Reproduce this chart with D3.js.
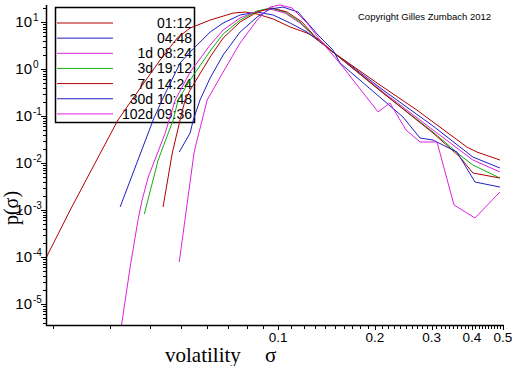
<!DOCTYPE html>
<html><head><meta charset="utf-8">
<script src="https://cdn.jsdelivr.net/npm/d3@7"></script>
<style>body{margin:0;background:#fff}svg{display:block}</style>
</head><body>
<svg id="chart" width="512" height="366"></svg>
<script>
// ---- data ----
const seriesLabels = ["01:12","04:48","1d 08:24","3d 19:12","7d 14:24","30d 10:48","102d 09:36"];
const seriesColors = ["#b00000","#2020c0","#e020e0","#10b010","#b00000","#2020c0","#e020e0"];

const sigma0112 = [0.0190,0.0226,0.0270,0.0318,0.0373,0.0430,0.0486,0.0533,0.0615,0.0725,0.0790,0.0861,0.0965,0.109,0.123,0.135,0.148,0.203,0.270,0.386,0.415,0.489];
const p0112     = [9.5e-5,1.0e-3,1.0e-2,0.0822,0.394,1.55,4.57,7.45,11.0,15.5,16.3,14.8,11.6,7.83,5.84,4.14,2.30,0.504,0.134,0.0219,0.0171,0.0116];

const sigma0448 = [0.0323,0.0409,0.0436,0.0496,0.0533,0.0615,0.0675,0.0762,0.0861,0.0965,0.109,0.123,0.135,0.148,0.212,0.303,0.403,0.489];
const p0448     = [0.00116,0.0822,0.219,1.34,2.30,6.13,9.52,14.1,16.3,14.1,9.52,6.13,3.75,2.30,0.357,0.0612,0.0134,0.00783];

const sigma1d   = [0.0321,0.0347,0.0367,0.0378,0.0395,0.0446,0.0479,0.0533,0.0615,0.0675,0.0762,0.0861,0.0944,0.1051,0.117,0.1331,0.148,0.212,0.303,0.403,0.489];
const p1d       = [1.71e-6,6.12e-5,6.12e-4,0.00163,0.00503,0.0435,0.219,0.863,3.24,6.76,12.2,17.1,18.9,15.5,9.52,4.14,2.30,0.324,0.0504,0.0116,0.00644];

const sigma3d   = [0.0384,0.0424,0.0472,0.0489,0.0533,0.0615,0.0675,0.0762,0.0861,0.0944,0.1051,0.117,0.1331,0.148,0.212,0.303,0.3674,0.403,0.489];
const p3d       = [8.22e-4,0.0116,0.0822,0.219,0.583,2.42,5.56,11.0,17.1,19.9,16.3,10.0,4.14,2.30,0.308,0.0457,0.0148,0.00906,0.00479];

const sigma7d   = [0.0439,0.0469,0.0496,0.0514,0.0533,0.0615,0.0675,0.0762,0.0861,0.0958,0.1067,0.1187,0.1331,0.148,0.212,0.303,0.3674,0.403,0.489];
const p7d       = [0.00116,0.0163,0.0822,0.219,0.357,1.80,4.57,10.0,16.3,19.9,16.3,10.0,4.14,2.30,0.308,0.0435,0.0134,0.00613,0.00479];

const sigma30d  = [0.0493,0.0533,0.0545,0.0572,0.0615,0.0675,0.0762,0.0861,0.0944,0.1036,0.1154,0.1331,0.148,0.1558,0.2444,0.2761,0.303,0.3597,0.4091,0.489];
const p30d      = [0.0171,0.0435,0.0822,0.219,0.644,1.99,6.13,12.8,18.9,20.8,16.3,5.29,2.54,1.34,0.0953,0.0340,0.0308,0.0171,0.00394,0.00308];

const sigma102d = [0.0493,0.0522,0.0548,0.0560,0.0581,0.0602,0.0675,0.0762,0.0861,0.0944,0.1014,0.1105,0.123,0.135,0.148,0.1591,0.2045,0.2227,0.2497,0.2761,0.3118,0.3521,0.4091,0.489];
const p102d     = [7.83e-5,0.00141,0.0163,0.0308,0.0822,0.219,0.863,3.58,11.0,20.8,23.0,19.9,9.52,4.14,1.99,1.10,0.122,0.189,0.0504,0.0280,0.0280,0.00128,0.000676,0.00241];

const xMajorTicks = [0.1,0.2,0.3,0.4,0.5];
const xTickLabels = ["0.1","0.2","0.3","0.4","0.5"];
const yExponents = [1,0,-1,-2,-3,-4,-5];

const allSigma = [sigma0112,sigma0448,sigma1d,sigma3d,sigma7d,sigma30d,sigma102d];
const allP = [p0112,p0448,p1d,p3d,p7d,p30d,p102d];

// ---- layout ----
const svg = d3.select("#chart");
const x = d3.scaleLog().domain([0.0190, 0.5]).range([46, 503]);
const y = d3.scaleLog().domain([Math.pow(10,-5.447), Math.pow(10,1.362)]).range([325, 5]);

svg.append("defs").append("clipPath").attr("id","plotclip")
  .append("rect").attr("x",46).attr("y",2).attr("width",462).attr("height",323);

// legend box
const legend = svg.append("g");
legend.append("rect").attr("x",55.5).attr("y",7.5).attr("width",139).attr("height",115)
  .attr("fill","none").attr("stroke","#000").attr("stroke-width",1.5);
seriesLabels.forEach((lab,i)=>{
  const yy = 23 + i*15.15;
  legend.append("line").attr("x1",57).attr("x2",113).attr("y1",yy).attr("y2",yy)
    .attr("stroke",seriesColors[i]).attr("stroke-width",1);
  legend.append("text").attr("x",192).attr("y",yy+5).attr("text-anchor","end")
    .attr("font-family","Liberation Sans, Arial, sans-serif").attr("font-size",14)
    .attr("fill","#000").text(lab);
});

// curves
const line = d3.line().x(d=>x(d[0])).y(d=>y(d[1]));
const gCurves = svg.append("g").attr("clip-path","url(#plotclip)");
allSigma.forEach((sArr,i)=>{
  const pts = sArr.map((s,j)=>[s, allP[i][j]]);
  gCurves.append("path").attr("d", line(pts)).attr("fill","none")
    .attr("stroke", seriesColors[i]).attr("stroke-width",1);
});

// x axis
const xAxis = svg.append("g");
xAxis.append("line").attr("x1",46).attr("x2",504).attr("y1",325.5).attr("y2",325.5)
  .attr("stroke","#000").attr("stroke-width",1.5);
const xMinor = d3.range(2,10).map(k=>k/100).concat(d3.range(11,50).filter(k=>k%10!==0).map(k=>k/100));
xMinor.forEach(v=>{
  xAxis.append("line").attr("x1",Math.round(x(v))+0.5).attr("x2",Math.round(x(v))+0.5)
    .attr("y1",325).attr("y2",329).attr("stroke","#000").attr("stroke-width",1);
});
xMajorTicks.forEach((v,i)=>{
  const xx = Math.round(x(v))+0.5;
  xAxis.append("line").attr("x1",xx).attr("x2",xx).attr("y1",325).attr("y2",330)
    .attr("stroke","#000").attr("stroke-width",1);
  xAxis.append("text").attr("x",x(v)).attr("y",342).attr("text-anchor","middle")
    .attr("font-family","Liberation Sans, Arial, sans-serif").attr("font-size",13.5)
    .text(xTickLabels[i]);
});

// y axis
const yAxis = svg.append("g");
yAxis.append("line").attr("x1",46.5).attr("x2",46.5).attr("y1",5).attr("y2",326)
  .attr("stroke","#000").attr("stroke-width",1.5);
const [ylo, yhi] = y.domain();
for (let e=-6; e<=1; e++){
  for (let k=2;k<=9;k++){
    const v = k*Math.pow(10,e);
    if (v<ylo || v>yhi) continue;
    const yy = Math.round(y(v))+0.5;
    yAxis.append("line").attr("x1",43).attr("x2",46).attr("y1",yy).attr("y2",yy)
      .attr("stroke","#000").attr("stroke-width",1);
  }
}
yExponents.forEach(e=>{
  const v = Math.pow(10,e);
  const yy = Math.round(y(v))+0.5;
  yAxis.append("line").attr("x1",41).attr("x2",46).attr("y1",yy).attr("y2",yy)
    .attr("stroke","#000").attr("stroke-width",1);
  yAxis.append("text").attr("font-family","Liberation Sans, Arial, sans-serif")
    .attr("x",32).attr("y",y(v)+5).attr("text-anchor","end").attr("font-size",15).text("10");
  yAxis.append("text").attr("font-family","Liberation Sans, Arial, sans-serif")
    .attr("x",33).attr("y",y(v)-1).attr("font-size",10).text(String(e));
});

// axis titles
svg.append("text").attr("x",165).attr("y",362).attr("font-family","Liberation Serif, Times New Roman, serif")
  .attr("font-size",21).text("volatility");
svg.append("text").attr("x",265).attr("y",362).attr("font-family","Liberation Serif, Times New Roman, serif")
  .attr("font-size",21).text("σ");
svg.append("text").attr("transform","translate(18,208) rotate(-90)").attr("text-anchor","middle")
  .attr("font-family","Liberation Serif, Times New Roman, serif").attr("font-size",20).text("p(σ)");

// copyright
svg.append("text").attr("x",358).attr("y",20).attr("font-family","Liberation Sans, Arial, sans-serif")
  .attr("font-size",9.5).text("Copyright Gilles Zumbach 2012");
</script>
</body></html>
